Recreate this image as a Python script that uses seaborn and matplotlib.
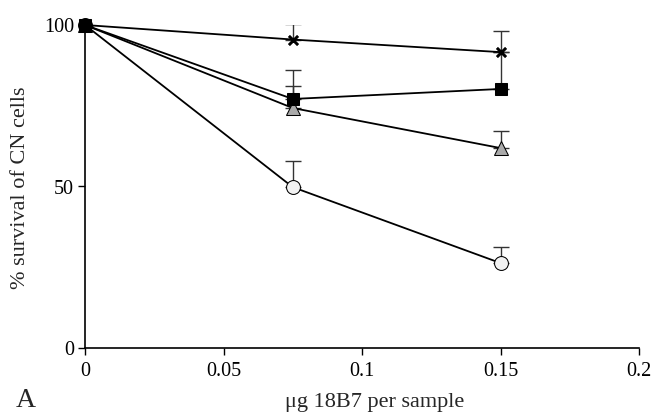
import matplotlib
matplotlib.use("Agg")
import matplotlib.pyplot as plt
import seaborn as sns
import pandas as pd
import numpy as np

sns.set_theme(style="ticks")
plt.rcParams['font.family'] = ['Liberation Serif', 'DejaVu Serif']

dose = [0, 0.075, 0.15]
star = [100, 95.5, 91.6]
star_err = [0, 4.9, 6.5]
square = [100, 77.1, 80.2]
square_err = [0, 9.0, 11.4]
triangle = [100, 74.3, 61.9]
triangle_err = [0, 6.8, 5.3]
circle = [100, 49.8, 26.3]
circle_err = [0, 8.1, 5.0]

xticks = [0, 0.05, 0.1, 0.15, 0.2]
xticklabels = ["0", "0.05", "0.1", "0.15", "0.2"]
yticks = [0, 50, 100]

fig = plt.figure(figsize=(6.56, 4.15), dpi=100)
ax = fig.add_axes([85/656, 1-348/415, (639-85)/656, (348-25)/415])

series = [
    ("circle", circle, circle_err, dict(marker="o", markerfacecolor="#f2f2f2", markersize=10)),
    ("triangle", triangle, triangle_err, dict(marker="^", markerfacecolor="#aaaaaa", markersize=10.5)),
    ("square", square, square_err, dict(marker="s", markerfacecolor="black", markersize=8.5)),
    ("star", star, star_err, dict(marker=(4, 2, 45), markerfacecolor="black", markersize=9, markeredgewidth=1.8)),
]

for name, vals, err, mk in series:
    ax.errorbar(dose, vals, yerr=[np.zeros(len(err)), err], fmt="none",
                ecolor="#333333", elinewidth=1.0, capsize=6, capthick=1.0, zorder=2)
for name, vals, err, mk in series:
    df = pd.DataFrame({"dose": dose, "survival": vals})
    sns.lineplot(data=df, x="dose", y="survival", ax=ax, color="black",
                 linewidth=1.3, markeredgecolor="black", clip_on=False, zorder=3, **mk)

ax.set_xlim(0, 0.2)
ax.set_ylim(0, 100)
ax.set_xticks(xticks)
ax.set_xticklabels(xticklabels)
ax.set_yticks(yticks)
sns.despine(ax=ax)
for s in ["left", "bottom"]:
    ax.spines[s].set_color("black")
    ax.spines[s].set_linewidth(1.2)
ax.tick_params(direction="out", length=5, width=1, colors="black", labelsize=14.5)
ax.tick_params(axis="x", pad=5)
ax.tick_params(axis="y", pad=3)
ax.set_xlabel("μg 18B7 per sample", fontsize=16, va="center")
ax.xaxis.set_label_coords((375-85)/554, (348-402)/323)
ax.set_ylabel("% survival of CN cells", fontsize=16, va="center")
ax.yaxis.set_label_coords((21-85)/554, (348-188)/323)
fig.text(26/656, 1-400/415, "A", fontsize=20, ha="center", va="center")

fig.savefig("out.png", dpi=100)
